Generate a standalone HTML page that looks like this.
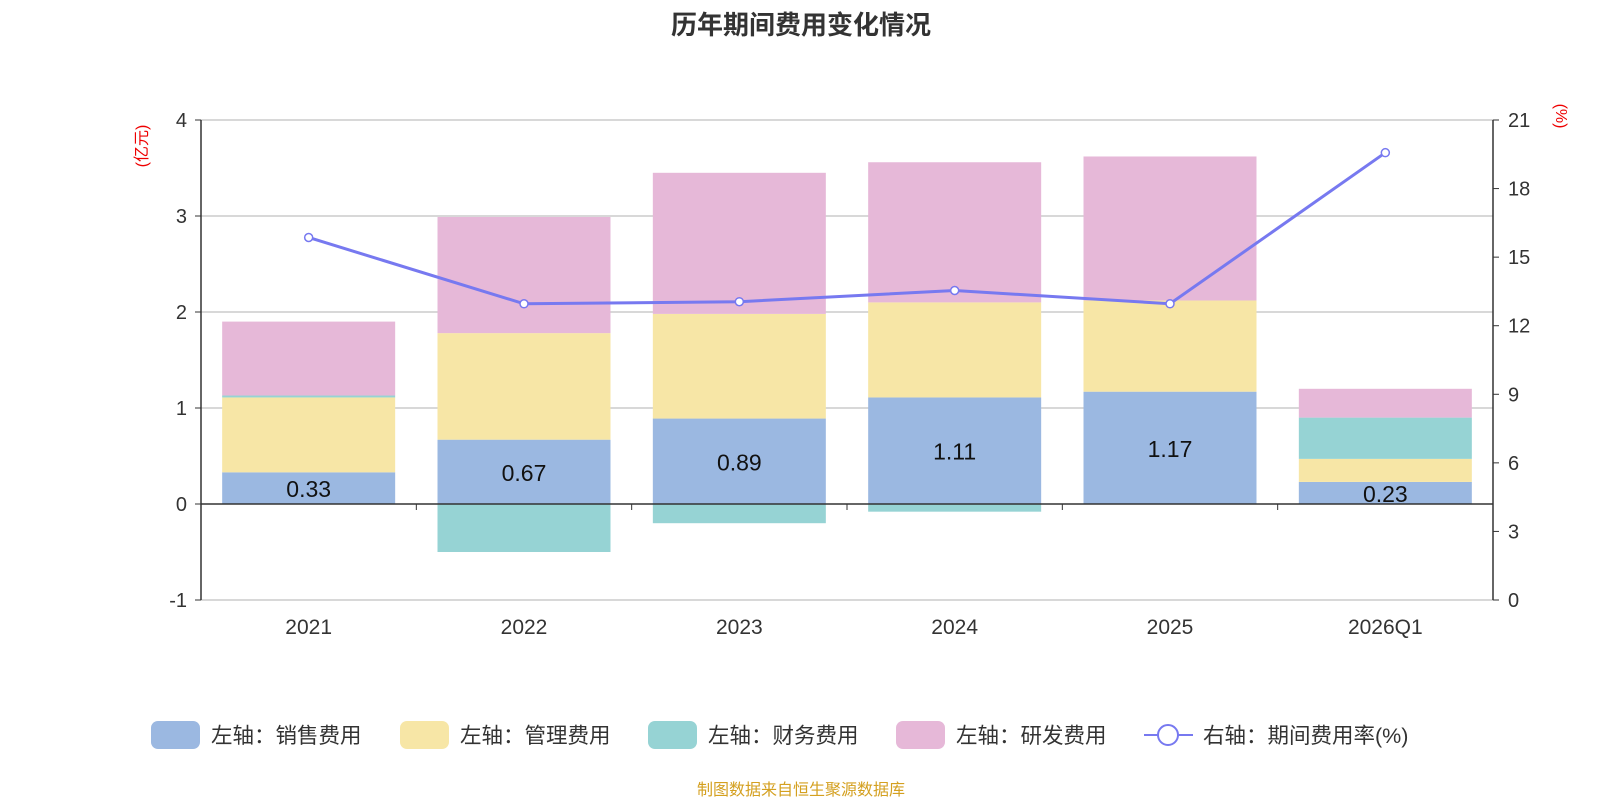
<!DOCTYPE html>
<html><head><meta charset="utf-8">
<style>
body{margin:0;background:#fff;width:1600px;height:800px;overflow:hidden;font-family:"Liberation Sans","Noto Sans CJK SC",sans-serif;}
</style></head>
<body>
<svg id="chart" width="1600" height="800" xmlns="http://www.w3.org/2000/svg" font-family="Liberation Sans, Noto Sans CJK SC, sans-serif">
<text x="801" y="34" text-anchor="middle" font-size="26" font-weight="bold" fill="#333">历年期间费用变化情况</text>
<text transform="translate(147,146) rotate(-90)" text-anchor="middle" font-size="16" fill="#e00">(亿元)</text>
<text transform="translate(1556,116) rotate(90)" text-anchor="middle" font-size="16" fill="#e00">(%)</text>
<g id="grid"></g><g id="bars"></g><g id="axes"></g><g id="line"></g><g id="legend"></g>
<text x="801" y="795" text-anchor="middle" font-size="16" fill="#d4a020">制图数据来自恒生聚源数据库</text>
</svg>
<script>
const categories=["2021","2022","2023","2024","2025","2026Q1"];
const sales=[0.33,0.67,0.89,1.11,1.17,0.23];
const admin=[0.78,1.11,1.09,0.99,0.95,0.24];
const finance=[0.02,-0.50,-0.20,-0.08,0.0,0.43];
const rnd=[0.77,1.21,1.47,1.46,1.50,0.30];
const rate=[15.86,12.96,13.05,13.54,12.96,19.57];
const leftTicks=[-1,0,1,2,3,4];
const rightTicks=[0,3,6,9,12,15,18,21];
const NS="http://www.w3.org/2000/svg";
const X0=201,X1=1493,band=(X1-X0)/categories.length,barW=173;
const yL=v=>504-v*96;
const yR=v=>600-v*(480/21);
const xC=i=>X0+band*(i+0.5);
function mk(tag,attrs,parent,text){const e=document.createElementNS(NS,tag);for(const k in attrs)e.setAttribute(k,attrs[k]);if(text!==undefined)e.textContent=text;document.getElementById(parent).appendChild(e);return e;}
leftTicks.forEach(t=>{
  if(t!==0&&t!==-1){const g=mk('line',{x1:X0,x2:X1,y1:yL(t),y2:yL(t),stroke:'#ccc','stroke-width':1.5},'grid');}
  const l=mk('text',{x:187,y:yL(t)+7,'text-anchor':'end','font-size':20,fill:'#333'},'axes',t);
  
  mk('line',{x1:X0-6,x2:X0,y1:yL(t),y2:yL(t),stroke:'#333'},'axes');
});
rightTicks.forEach(t=>{
  const l=mk('text',{x:1508,y:yR(t)+7,'font-size':20,fill:'#333'},'axes',t);
  
  mk('line',{x1:X1,x2:X1+6,y1:yR(t),y2:yR(t),stroke:'#333'},'axes');
});
mk('line',{x1:X0,x2:X0,y1:yL(4),y2:yL(-1),stroke:'#333','stroke-width':1.5},'axes');
mk('line',{x1:X1,x2:X1,y1:yR(21),y2:yR(0),stroke:'#333','stroke-width':1.5},'axes');
mk('line',{x1:X0,x2:X1,y1:yL(-1),y2:yL(-1),stroke:'#ccc','stroke-width':1.5},'grid');
const series=[[sales,'#9bb8e1','sales'],[admin,'#f7e6a6','admin'],[finance,'#96d3d4','finance'],[rnd,'#e6b8d8','rnd']];
categories.forEach((c,i)=>{
  let pos=0,neg=0;
  series.forEach(([arr,col,nm])=>{
    const v=arr[i];let a,b;
    if(v>=0){a=pos;b=pos+v;pos=b;}else{a=neg;b=neg+v;neg=b;}
    const r=mk('rect',{x:xC(i)-barW/2,width:barW,y:Math.min(yL(a),yL(b)),height:Math.abs(yL(b)-yL(a)),fill:col},'bars');
    
  });
  const t=mk('text',{x:xC(i),y:yL(sales[i]/2)+9,'text-anchor':'middle','font-size':23,fill:'#111'},'bars',sales[i].toFixed(2));
  
  const xl=mk('text',{x:xC(i),y:634,'text-anchor':'middle','font-size':21,fill:'#333'},'axes',c);
  
  mk('line',{x1:X0+band*(i+1),x2:X0+band*(i+1),y1:504,y2:510,stroke:'#333'},'axes');
});
mk('line',{x1:X0,x2:X1,y1:504,y2:504,stroke:'#333','stroke-width':1.5},'axes');
const pts=rate.map((v,i)=>xC(i)+','+yR(v)).join(' ');
const pl=mk('polyline',{points:pts,fill:'none',stroke:'#7779f0','stroke-width':3},'line');

rate.forEach((v,i)=>{const p=mk('circle',{cx:xC(i),cy:yR(v),r:4,fill:'#fff',stroke:'#7779f0','stroke-width':1.5},'line');
  });
const legendItems=[['左轴：销售费用','#9bb8e1',151],['左轴：管理费用','#f7e6a6',400],['左轴：财务费用','#96d3d4',648],['左轴：研发费用','#e6b8d8',896]];
legendItems.forEach(([t,col,x])=>{
  const r=mk('rect',{x:x,y:721,width:49,height:28,rx:7,fill:col},'legend');
  
  const l=mk('text',{x:x+60,y:743,'font-size':21.5,fill:'#333'},'legend',t);
  
});
mk('line',{x1:1144,x2:1193,y1:735,y2:735,stroke:'#7779f0','stroke-width':2},'legend');
mk('circle',{cx:1168,cy:735,r:10,fill:'#fff',stroke:'#7779f0','stroke-width':2},'legend');
const ll=mk('text',{x:1203,y:743,'font-size':21.5,fill:'#333'},'legend','右轴：期间费用率(%)');

</script>
</body></html>
